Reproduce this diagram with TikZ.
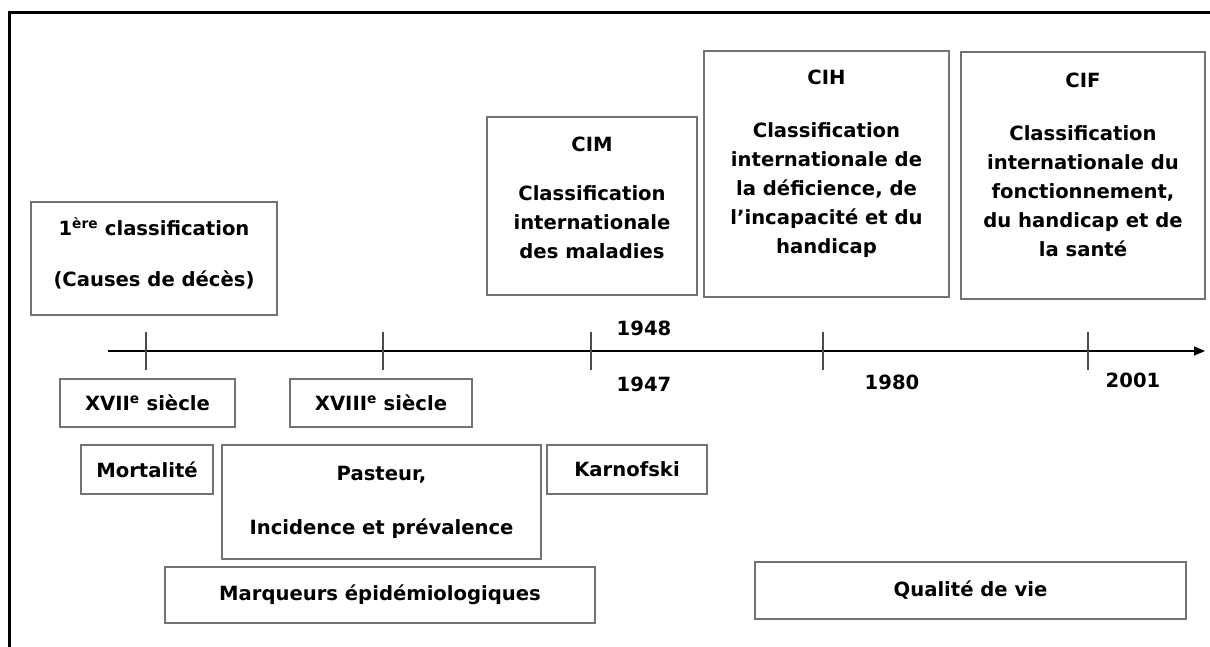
\documentclass[tikz,border=0pt]{standalone}
\usepackage{fontspec}
\setmainfont{DejaVu Sans}
\usetikzlibrary{arrows.meta}
\begin{document}
\begin{tikzpicture}[x=1pt,y=-1pt,
  box/.style={draw=black!55, line width=1.3pt, font=\fontsize{19.6}{29}\selectfont\bfseries, align=center, inner sep=0pt},
  txt/.style={font=\fontsize{19.6}{29}\selectfont\bfseries, align=center, inner sep=0pt},
  yr/.style={font=\fontsize{19.6}{29}\selectfont\bfseries, inner sep=0pt},
  tickmark/.style={draw=black!70, line width=1.1pt},
  axis/.style={draw=black, line width=1.5pt, -{Triangle[length=11pt,width=9pt]}}]
\useasboundingbox (0,0) rectangle (1210,647);
\fill[white] (0,0) rectangle (1210,647);
\draw[line width=3pt] (9,660) -- (9,13) -- (1220,13);
% top boxes
\node[box, minimum width=246, minimum height=113] (b1) at (154,258.5) {};
\node[txt] (b1t) at ([yshift=5pt]b1.center)
  {1\textsuperscript{ère} classification\\[22pt](Causes de décès)};
\node[box, minimum width=210, minimum height=178] (cim) at (592,206) {};
\node[txt] (cimt) at ([yshift=8pt]cim.center)
  {CIM\\[20pt]Classification\\internationale\\des maladies};
\node[box, minimum width=245, minimum height=246] (cih) at (826.5,174) {};
\node[txt] (ciht) at ([yshift=10pt]cih.center)
  {CIH\\[24pt]Classification\\internationale de\\la déficience, de\\l’incapacité et du\\handicap};
\node[box, minimum width=244, minimum height=247] (cif) at (1083,175.5) {};
\node[txt] (cift) at ([yshift=11pt]cif.center)
  {CIF\\[24pt]Classification\\internationale du\\fonctionnement,\\du handicap et de\\la santé};
% axis
\coordinate (a0) at (108,351);
\coordinate (a1) at (1205,351);
\draw[axis] (a0) -- (a1);
\foreach \x in {146,383,591,823,1088}
  \draw[tickmark] (\x,332) -- (\x,370);
% years
\node[yr] (y1948) at (644,328) {1948};
\node[yr] (y1947) at (644,384) {1947};
\node[yr] (y1980) at (892,382) {1980};
\node[yr] (y2001) at (1133,380) {2001};
% bottom boxes
\node[box, minimum width=175, minimum height=48] (s17) at (147.5,403) {XVII\textsuperscript{e} siècle};
\node[box, minimum width=182, minimum height=48] (s18) at (381,403) {XVIII\textsuperscript{e} siècle};
\node[box, minimum width=132, minimum height=49] (mort) at (147,469.5) {Mortalité};
\node[box, minimum width=319, minimum height=114] (past) at (381.5,502) {Pasteur,\\[25pt]Incidence et prévalence};
\node[box, minimum width=160, minimum height=49] (karn) at (627,469.5) {Karnofski};
\node[box, minimum width=430, minimum height=56] (marq) at (380,595) {Marqueurs épidémiologiques};
\node[box, minimum width=431, minimum height=57] (qual) at (970.5,590.5) {Qualité de vie};
\end{tikzpicture}
\end{document}
